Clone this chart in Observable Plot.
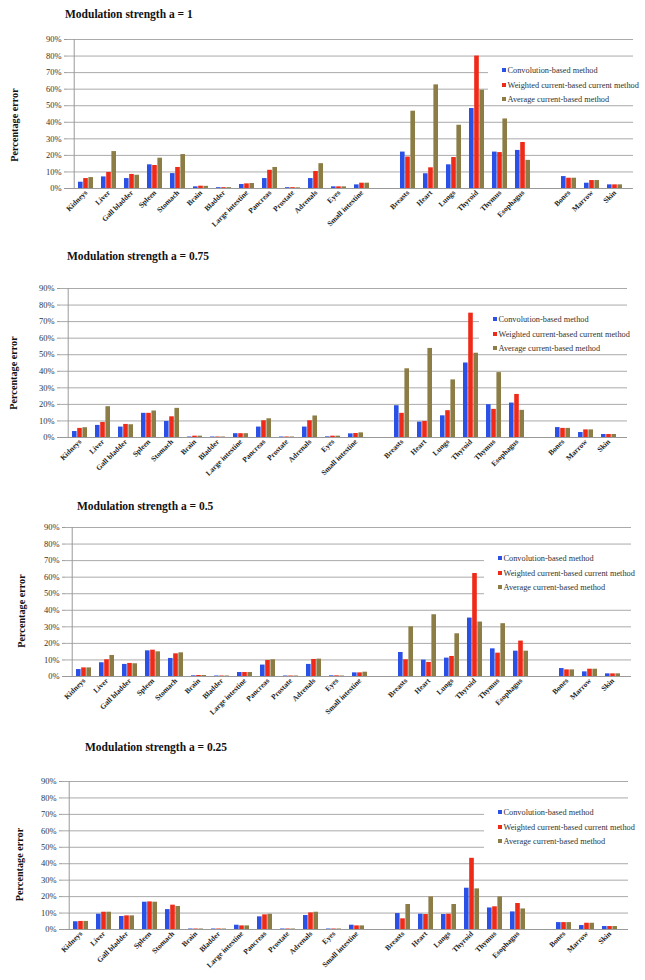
<!DOCTYPE html>
<html><head><meta charset="utf-8">
<script src="https://cdn.jsdelivr.net/npm/d3@7"></script>
<script src="https://cdn.jsdelivr.net/npm/@observablehq/plot@0.6"></script>
<style>
body{margin:0;background:#fff;}
#root{position:relative;width:645px;height:980px;overflow:hidden;font-family:"Liberation Serif","Times New Roman",serif;}
.title{position:absolute;font-family:"Liberation Serif","Times New Roman",serif;font-weight:bold;font-size:11.5px;line-height:16px;white-space:nowrap;color:#111;}
.legend{position:absolute;background:#fff;font-family:"Liberation Serif","Times New Roman",serif;font-size:8.3px;color:#333;}
.legend .row{position:absolute;left:14px;white-space:nowrap;line-height:10px;height:10px;}
.legend .sw{display:inline-block;width:4px;height:4px;margin-right:1.5px;vertical-align:1px;}
#root svg{position:absolute;left:0;overflow:visible;}
</style></head><body><div id="root"></div>
<script>
// ---- data ----
const categories = ["Kidneys","Liver","Gall bladder","Spleen","Stomach","Brain","Bladder","Large intestine","Pancreas","Prostate","Adrenals","Eyes","Small intestine","Breasts","Heart","Lungs","Thyroid","Thymus","Esophagus","Bones","Marrow","Skin"];
const seriesNames = ["Convolution-based method","Weighted current-based current method","Average current-based method"];
const seriesColors = ["#2a50e6","#ee2a18","#8c7c46"];
const panelTitles = ["Modulation strength a = 1","Modulation strength a = 0.75","Modulation strength a = 0.5","Modulation strength a = 0.25"];
const yLabel = "Percentage error";
const yTicks = [0,10,20,30,40,50,60,70,80,90];

const a100_conv     = [3.8,7,6,14.3,9,1,0.5,2.4,6,0.5,6,1,2.2, 22,8.9,14.3,48.3,22,23, 7.2,3.2,2.2];
const a100_weighted = [6,9.7,8.5,13.9,12.7,1.4,0.5,2.8,11,0.5,10.3,1,3.2, 19,12.5,18.7,80,21.7,27.8, 6.2,4.8,2.2];
const a100_average  = [6.6,22.3,8,18.3,20.5,1.3,0.5,3,12.7,0.4,15,1,3.2, 46.7,62.6,38.2,59.4,42,17, 6.2,4.8,2.2];

const a075_conv     = [3.6,7.3,6.3,14.6,9.7,0.3,0.3,2.3,6.3,0.3,6.3,0.4,2.2, 19.2,9.3,13.1,45,19.8,20.8, 6,3,1.8];
const a075_weighted = [5.5,9.1,7.9,14.6,12.5,0.8,0.3,2.3,10.1,0.3,10.1,0.8,2.4, 14.6,9.7,16.2,75.1,17,26, 5.5,4.6,1.8];
const a075_average  = [5.9,18.6,7.7,16,17.6,0.8,0.3,2.3,11.3,0.3,13,0.8,2.8, 41.5,53.8,34.8,50.9,39.2,16.4, 5.5,4.6,1.8];

const a050_conv     = [4.2,8.3,7.3,15.5,10.9,0.4,0.3,2.4,6.9,0.3,7.3,0.4,2.2, 14.5,9.9,11.1,35.3,16.7,15.3, 4.8,2.8,1.6];
const a050_weighted = [5.2,10.1,7.9,15.9,13.7,0.6,0.3,2.4,9.7,0.3,10.3,0.4,2.2, 10.1,8.5,12.1,62.2,14.1,21.4, 4,4.4,1.6];
const a050_average  = [5.2,12.7,7.7,14.9,14.3,0.6,0.3,2.4,10.1,0.3,10.5,0.3,2.6, 30,37.3,25.8,32.9,31.9,15.3, 4,4.4,1.6];

const a025_conv     = [4.7,9.3,7.9,16.6,12.1,0.3,0.3,2.6,7.7,0.3,8.5,0.3,2.6, 9.7,9.3,9.1,25.1,13.1,10.7, 4.2,2.4,1.8];
const a025_weighted = [4.9,10.5,8.3,16.8,14.8,0.3,0.3,2.2,8.9,0.3,10.1,0.3,2.2, 6.5,9.1,9.3,43.3,13.8,15.8, 4.2,3.8,1.8];
const a025_average  = [4.9,10.5,8.3,16.6,14,0.3,0.3,2.2,9.3,0.3,10.5,0.3,2.2, 15.2,19.8,15.2,24.7,19.8,12.5, 4.2,3.8,1.8];

const panelSeries = [
  [a100_conv, a100_weighted, a100_average],
  [a075_conv, a075_weighted, a075_average],
  [a050_conv, a050_weighted, a050_average],
  [a025_conv, a025_weighted, a025_average]
];

// category slots with the two empty gaps between organ groups
const slots = [...categories.slice(0,13), "gap1", ...categories.slice(13,19), "gap2", ...categories.slice(19)];

// ---- layout (pixels) ----
const layout = [
  {top:39,  bottom:188, left:67, right:633, tx:65, ty:6,   ldx:-53, ldy:11, lgx:488, lgh:42},
  {top:288, bottom:437, left:60, right:627, tx:67, ty:248, ldx:-47, ldy:10, lgx:479, lgh:42},
  {top:527, bottom:676, left:65, right:631, tx:77, ty:498, ldx:-44, ldy:9,  lgx:484, lgh:50},
  {top:781, bottom:929, left:62, right:628, tx:85, ty:739, ldx:-43, ldy:9,  lgx:484, lgh:50}
];
const W = 645, mt = 10, mb = 48;
const font = '"Liberation Serif","Times New Roman",serif';
const root = document.getElementById("root");

panelTitles.forEach((title, k) => {
  const L = layout[k];
  const h = L.bottom - L.top;
  const bw = (L.right - L.left) / slots.length;
  const gw = 15.6, bar = gw / 3;
  const data = [];
  panelSeries[k].forEach((vals, s) => {
    categories.forEach((c, i) => data.push({cat: c, series: seriesNames[s], value: vals[i]}));
  });
  const marks = [
    Plot.gridY(yTicks, {stroke: "#aaaaaa", strokeOpacity: 1}),
    ...seriesNames.map((s, i) => Plot.barY(data.filter(d => d.series === s), {
      x: "cat", y: "value", fill: seriesColors[i],
      insetLeft: (bw - gw) / 2 + i * bar,
      insetRight: bw - (bw - gw) / 2 - (i + 1) * bar
    })),
    Plot.ruleY([0], {stroke: "#9a9a9a"}),
    Plot.ruleX([slots[0]], {dx: -bw / 2, stroke: "#9a9a9a"}),
    Plot.axisY(yTicks, {tickFormat: d => d + "%", tickSize: 3, tickPadding: 3, fontSize: 8.5, label: null, stroke: "#9a9a9a", fill: "#333"}),
    Plot.axisX({tickRotate: -45, tickSize: 0, tickPadding: 3, fontSize: 7.5, fontWeight: "bold", fill: "#222",
      tickFormat: d => d.startsWith("gap") ? "" : d, label: null}),
    Plot.text([yLabel], {frameAnchor: "left", textAnchor: "middle", rotate: -90, dx: L.ldx, dy: L.ldy, fontSize: 10.2, fontWeight: "bold", fill: "#111"})
  ];
  const chart = Plot.plot({
    width: W, height: mt + h + mb,
    marginTop: mt, marginBottom: mb, marginLeft: L.left, marginRight: W - L.right,
    x: {domain: slots, padding: 0},
    y: {domain: [0, 90]},
    style: {fontFamily: font, background: "transparent"},
    marks
  });
  chart.style.top = (L.top - mt) + "px";
  root.appendChild(chart);

  const t = document.createElement("div");
  t.className = "title";
  t.style.left = L.tx + "px";
  t.style.top = L.ty + "px";
  t.textContent = title;
  root.appendChild(t);

  const lg = document.createElement("div");
  lg.className = "legend";
  lg.style.left = L.lgx + "px";
  lg.style.top = (L.top + 22) + "px";
  lg.style.width = (W - L.lgx) + "px";
  lg.style.height = L.lgh + "px";
  seriesNames.forEach((s, i) => {
    const r = document.createElement("div");
    r.className = "row";
    r.style.top = (5 + i * 14.5) + "px";
    r.innerHTML = `<span class="sw" style="background:${seriesColors[i]}"></span>${s}`;
    lg.appendChild(r);
  });
  root.appendChild(lg);
});
</script>
</body></html>
